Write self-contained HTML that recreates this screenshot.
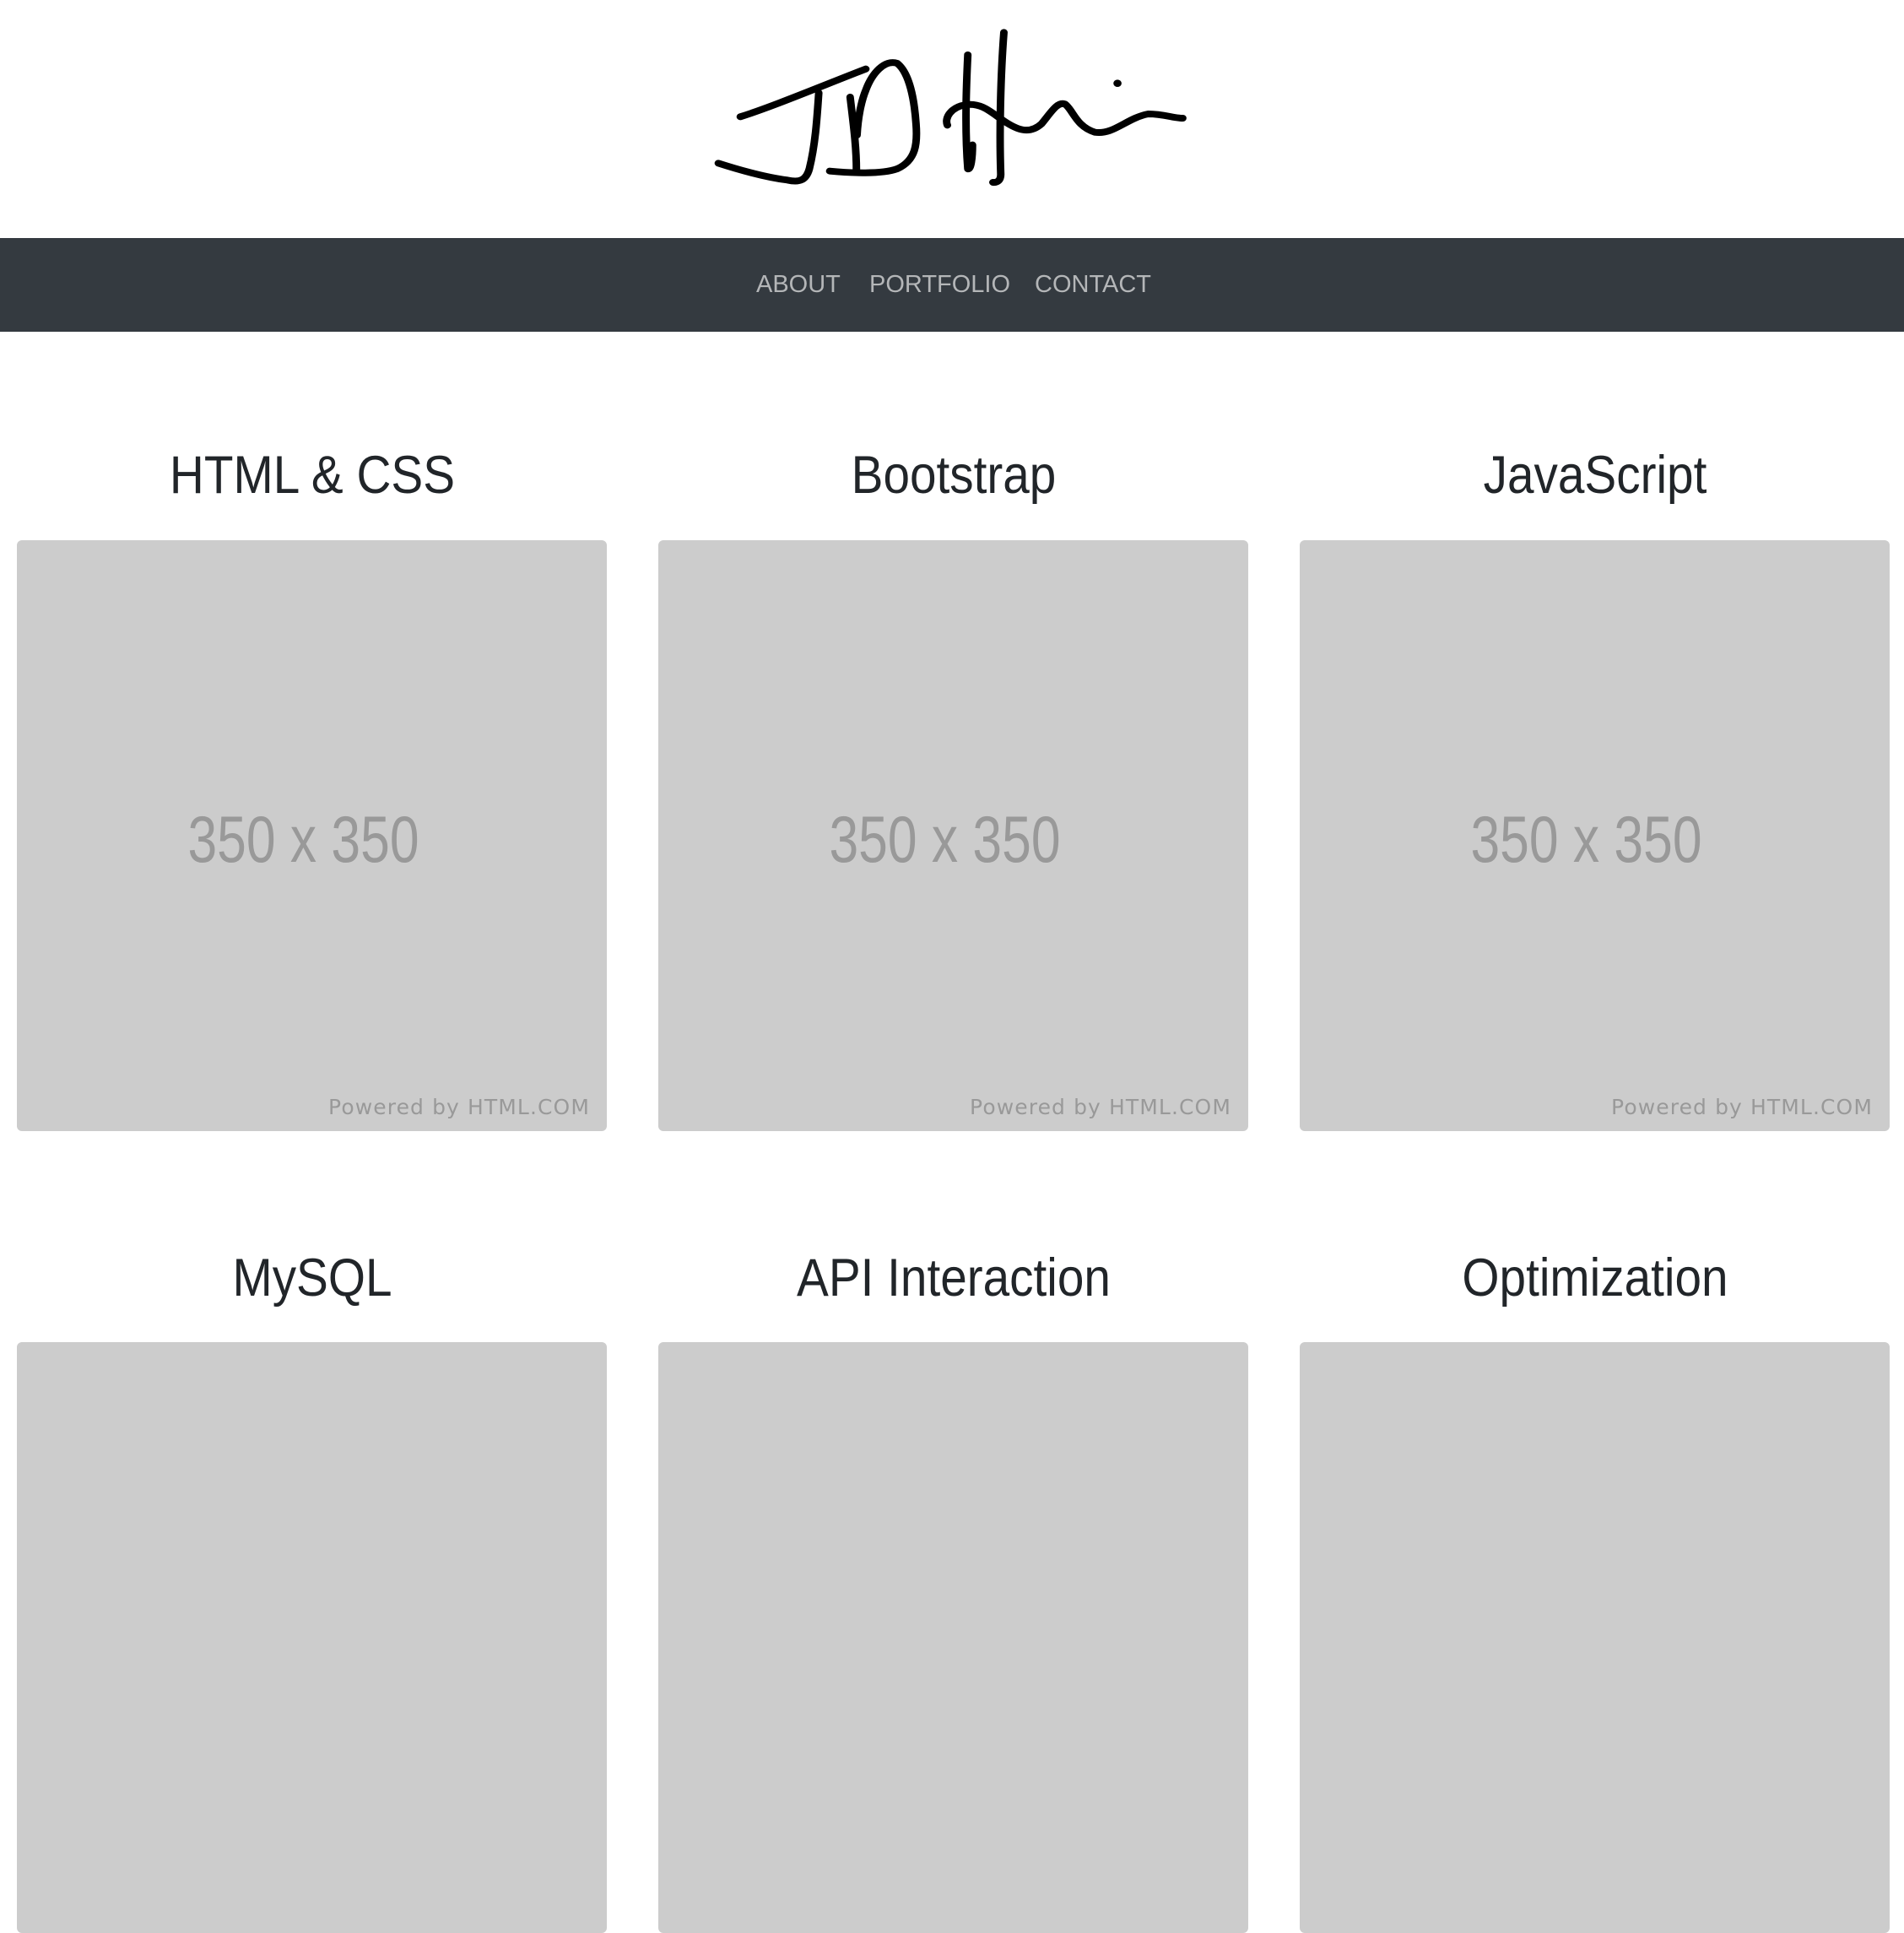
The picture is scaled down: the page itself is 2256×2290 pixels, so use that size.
<!DOCTYPE html>
<html><head><meta charset="utf-8"><style>
body{margin:0;width:2256px;height:1844px;background:#fff;position:relative;overflow:hidden;font-family:"Liberation Sans",sans-serif}
.nav{position:absolute;left:0;top:282px;width:2256px;height:111px;background:#343a40}
.nav span{position:absolute;top:35px;font-size:29px;color:#b4b6b8;line-height:40px}
.t{position:absolute;width:700px;text-align:center;font-size:63px;color:#212529;line-height:80px;transform:scaleX(0.9)}
.b{position:absolute;width:699px;height:700px;background:#ccc;border-radius:6px;overflow:hidden}
.b .n{position:absolute;left:-10px;width:100%;top:309px;text-align:center;font-size:78px;color:#999;line-height:90px;transform:scaleX(0.8)}
.b .p{position:absolute;right:20px;top:657px;font-family:"DejaVu Sans",sans-serif;font-size:25px;letter-spacing:1.1px;color:#999;line-height:30px}
</style></head><body>
<svg style="position:absolute;left:840px;top:20px" width="580" height="220" viewBox="0 0 1560 660" preserveAspectRatio="none">
<g fill="none" stroke="#000" stroke-width="24" stroke-linecap="round" stroke-linejoin="round">
<path d="M100 355 C200 320 350 250 500 185"/>
<path d="M350 270 C345 350 340 450 320 540 C310 580 290 590 250 580 C180 570 100 545 30 520"/>
<path d="M450 285 C460 380 470 460 470 545"/>
<path d="M385 548 C450 555 550 560 600 540 C660 510 665 450 660 380 C655 300 640 200 600 165 C560 150 520 200 500 260 C485 300 475 360 472 420"/>
<path d="M825 135 C820 250 815 400 825 540 C835 545 840 500 840 455"/>
<path d="M940 55 C930 200 925 400 930 560 C930 580 920 590 905 588"/>
<path d="M760 385 C750 360 770 320 820 312 C870 305 900 340 940 370 C980 400 1020 420 1060 380 C1090 340 1110 300 1135 310 C1160 330 1170 390 1230 410 C1290 420 1330 360 1400 345 C1450 345 1480 360 1510 360"/>
</g><circle cx="1302" cy="236" r="13" fill="#000"/></svg>
<div class="nav"><span style="left:896px">ABOUT</span><span style="left:1030px">PORTFOLIO</span><span style="left:1226px">CONTACT</span></div>
<div class="t" style="left:20px;top:523px">HTML &amp; CSS</div>
<div class="t" style="left:780px;top:523px">Bootstrap</div>
<div class="t" style="left:1540px;top:523px">JavaScript</div>
<div class="b" style="left:20px;top:640px"><div class="n">350 x 350</div><div class="p">Powered by HTML.COM</div></div>
<div class="b" style="left:780px;top:640px"><div class="n">350 x 350</div><div class="p">Powered by HTML.COM</div></div>
<div class="b" style="left:1540px;top:640px"><div class="n">350 x 350</div><div class="p">Powered by HTML.COM</div></div>
<div class="t" style="left:20px;top:1474px">MySQL</div>
<div class="t" style="left:780px;top:1474px">API Interaction</div>
<div class="t" style="left:1540px;top:1474px">Optimization</div>
<div class="b" style="left:20px;top:1590px"></div>
<div class="b" style="left:780px;top:1590px"></div>
<div class="b" style="left:1540px;top:1590px"></div>
</body></html>
